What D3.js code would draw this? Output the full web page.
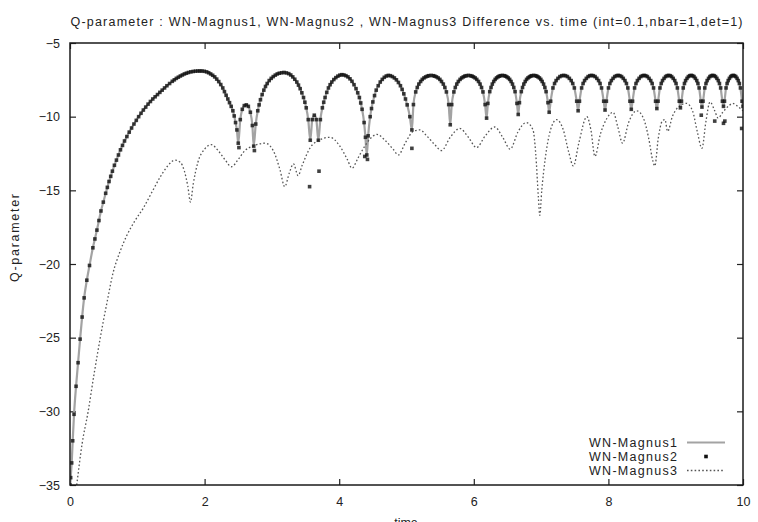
<!DOCTYPE html>
<html>
<head>
<meta charset="utf-8">
<script src="https://cdn.jsdelivr.net/npm/d3@7"></script>
<style>
  html, body { margin: 0; padding: 0; background: #fff; }
  svg { display: block; }
  text { font-family: "Liberation Sans", Arial, Helvetica, sans-serif; fill: #222; }
</style>
</head>
<body>
<svg id="chart" width="758" height="522"></svg>
<script>
// Q-parameter time series, [time, Q] pairs
const chartTitle = "Q-parameter : WN-Magnus1, WN-Magnus2 , WN-Magnus3 Difference vs. time (int=0.1,nbar=1,det=1)";
const xLabel = "time";
const yLabel = "Q-parameter";
const seriesNames = ["WN-Magnus1", "WN-Magnus2", "WN-Magnus3"];
const xTicks = [0, 2, 4, 6, 8, 10];
const yTicks = [-35, -30, -25, -20, -15, -10, -5];

const magnus1 = [
  [0.0,-35.0],[0.01,-34.5],[0.025,-33.5],[0.04,-32.0],[0.06,-30.2],[0.09,-28.3],[0.12,-26.7],[0.15,-25.1],
  [0.18,-23.6],[0.21,-22.3],[0.25,-21.1],[0.29,-20.1],[0.34,-18.9],[0.37,-18.3],[0.40,-17.7],[0.43,-17.05],
  [0.46,-16.4],[0.495,-15.8],[0.53,-15.2],[0.555,-14.8],[0.58,-14.4],[0.605,-14.05],[0.63,-13.7],[0.66,-13.3],
  [0.69,-12.95],[0.72,-12.6],[0.75,-12.25],[0.78,-11.95],[0.81,-11.65],[0.845,-11.35],[0.88,-11.05],[0.915,-10.77],
  [0.95,-10.5],[0.985,-10.25],[1.02,-10.0],[1.055,-9.77],[1.09,-9.55],[1.125,-9.35],[1.16,-9.15],[1.195,-8.97],
  [1.23,-8.8],[1.265,-8.65],[1.30,-8.5],[1.335,-8.35],[1.37,-8.2],[1.405,-8.05],[1.44,-7.9],[1.48,-7.75],
  [1.52,-7.6],[1.55,-7.5],[1.58,-7.4],[1.61,-7.32],[1.64,-7.24],[1.67,-7.17],[1.70,-7.1],[1.73,-7.05],
  [1.76,-7.0],[1.795,-6.96],[1.83,-6.93],[1.865,-6.91],[1.90,-6.9],[1.93,-6.9],[1.96,-6.9],[1.995,-6.92],
  [2.03,-6.96],[2.06,-7.02],[2.09,-7.1],[2.12,-7.19],[2.15,-7.3],[2.18,-7.45],[2.21,-7.62],[2.24,-7.82],
  [2.27,-8.05],[2.295,-8.3],[2.32,-8.55],[2.345,-8.8],[2.37,-9.05],[2.395,-9.3],[2.42,-9.6],[2.44,-9.95],
  [2.46,-10.4],[2.48,-10.9],[2.50,-11.8],
  [2.53,-10.2],[2.56,-9.5],[2.59,-9.25],[2.62,-9.2],[2.65,-9.3],[2.68,-9.7],[2.71,-10.6],[2.73,-12.0],
  [2.76,-10.5],[2.79,-9.6],[2.81,-9.2],[2.83,-8.85],[2.855,-8.5],[2.88,-8.2],[2.905,-7.95],[2.93,-7.75],
  [2.96,-7.55],[2.99,-7.4],[3.02,-7.28],[3.05,-7.18],[3.08,-7.1],[3.11,-7.05],[3.145,-7.02],[3.18,-7.0],
  [3.215,-7.03],[3.25,-7.08],[3.28,-7.17],[3.31,-7.3],[3.34,-7.46],[3.37,-7.65],[3.395,-7.86],[3.42,-8.1],
  [3.445,-8.38],[3.47,-8.7],[3.49,-9.02],[3.51,-9.4],[3.54,-10.2],[3.57,-11.6],
  [3.60,-10.2],[3.63,-9.9],[3.66,-10.2],[3.69,-11.6],[3.72,-10.2],[3.75,-9.4],[3.77,-9.02],[3.79,-8.7],
  [3.815,-8.35],[3.84,-8.05],[3.865,-7.83],[3.89,-7.65],[3.92,-7.48],[3.95,-7.35],[3.98,-7.25],[4.01,-7.18],
  [4.04,-7.15],[4.07,-7.17],[4.10,-7.22],[4.13,-7.3],[4.16,-7.43],[4.19,-7.6],[4.22,-7.83],[4.25,-8.1],
  [4.275,-8.38],[4.30,-8.7],[4.32,-9.07],[4.34,-9.5],[4.37,-10.4],[4.39,-11.4],[4.41,-12.6],
  [4.43,-11.3],[4.46,-10.0],[4.48,-9.45],[4.50,-9.0],[4.525,-8.57],[4.55,-8.2],[4.58,-7.9],[4.61,-7.65],
  [4.64,-7.47],[4.67,-7.33],[4.70,-7.24],[4.73,-7.2],[4.76,-7.22],[4.79,-7.28],[4.82,-7.37],[4.85,-7.5],
  [4.88,-7.68],[4.91,-7.9],[4.935,-8.15],[4.96,-8.45],[4.985,-8.8],[5.01,-9.2],[5.05,-10.0],
  [5.08,-10.9],[5.103,-9.18],[5.137,-8.32],[5.16,-8.02],[5.183,-7.79],[5.21,-7.61],[5.234,-7.47],[5.26,-7.37],
  [5.285,-7.3],[5.31,-7.25],[5.331,-7.22],[5.365,-7.2],[5.399,-7.22],[5.42,-7.25],[5.445,-7.3],[5.47,-7.37],
  [5.496,-7.47],[5.52,-7.61],[5.547,-7.79],[5.57,-8.02],[5.593,-8.32],[5.627,-9.18],
  [5.65,-10.55],[5.672,-9.18],[5.704,-8.32],[5.725,-8.02],[5.747,-7.79],[5.77,-7.61],[5.796,-7.47],[5.82,-7.37],
  [5.844,-7.3],[5.866,-7.25],[5.888,-7.22],[5.92,-7.2],[5.952,-7.22],[5.974,-7.25],[5.996,-7.3],[6.02,-7.37],
  [6.044,-7.47],[6.07,-7.61],[6.093,-7.79],[6.115,-8.02],[6.136,-8.32],[6.168,-9.18],
  [6.19,-10.1],[6.209,-9.1],[6.237,-8.3],[6.256,-8.02],[6.275,-7.79],[6.296,-7.61],[6.317,-7.47],[6.338,-7.37],
  [6.359,-7.3],[6.378,-7.25],[6.397,-7.22],[6.425,-7.2],[6.453,-7.22],[6.472,-7.25],[6.491,-7.3],[6.512,-7.37],
  [6.533,-7.47],[6.554,-7.61],[6.575,-7.79],[6.594,-8.02],[6.613,-8.3],[6.641,-9.1],
  [6.66,-9.85],[6.678,-9.05],[6.706,-8.3],[6.724,-8.02],[6.743,-7.79],[6.764,-7.61],[6.784,-7.47],[6.805,-7.37],
  [6.826,-7.3],[6.844,-7.25],[6.862,-7.22],[6.89,-7.2],[6.918,-7.22],[6.936,-7.25],[6.954,-7.3],[6.975,-7.37],
  [6.996,-7.47],[7.016,-7.61],[7.037,-7.79],[7.056,-8.02],[7.074,-8.3],[7.102,-9.05],
  [7.12,-9.7],[7.142,-8.95],[7.176,-8.05],[7.2,-7.75],[7.223,-7.55],[7.25,-7.4],[7.279,-7.28],[7.307,-7.22],
  [7.335,-7.2],[7.363,-7.22],[7.391,-7.28],[7.42,-7.4],[7.447,-7.55],[7.47,-7.75],[7.494,-8.05],[7.529,-8.95],
  [7.55,-9.6],[7.57,-8.95],[7.602,-8.05],[7.624,-7.75],[7.646,-7.55],[7.672,-7.4],[7.698,-7.28],[7.724,-7.22],
  [7.75,-7.2],[7.776,-7.22],[7.802,-7.28],[7.828,-7.4],[7.854,-7.55],[7.876,-7.75],[7.898,-8.05],[7.93,-8.95],
  [7.95,-9.55],[7.97,-8.95],[8.001,-8.05],[8.022,-7.75],[8.044,-7.55],[8.069,-7.4],[8.094,-7.28],[8.12,-7.22],
  [8.145,-7.2],[8.17,-7.22],[8.196,-7.28],[8.221,-7.4],[8.246,-7.55],[8.268,-7.75],[8.289,-8.05],[8.32,-8.95],
  [8.34,-9.5],[8.359,-8.95],[8.389,-8.05],[8.41,-7.75],[8.431,-7.55],[8.456,-7.4],[8.481,-7.28],[8.505,-7.22],
  [8.53,-7.2],[8.555,-7.22],[8.579,-7.28],[8.604,-7.4],[8.629,-7.55],[8.65,-7.75],[8.671,-8.05],[8.701,-8.95],
  [8.72,-9.45],[8.738,-8.95],[8.766,-8.05],[8.785,-7.75],[8.804,-7.55],[8.827,-7.4],[8.85,-7.28],[8.872,-7.22],
  [8.895,-7.2],[8.918,-7.22],[8.94,-7.28],[8.963,-7.4],[8.986,-7.55],[9.005,-7.75],[9.025,-8.05],[9.053,-8.95],
  [9.07,-9.4],[9.086,-8.95],[9.112,-8.05],[9.13,-7.75],[9.147,-7.55],[9.168,-7.4],[9.188,-7.28],[9.209,-7.22],
  [9.23,-7.2],[9.251,-7.22],[9.272,-7.28],[9.292,-7.4],[9.313,-7.55],[9.33,-7.75],[9.348,-8.05],[9.374,-8.95],
  [9.39,-9.35],[9.406,-8.95],[9.432,-8.05],[9.45,-7.75],[9.467,-7.55],[9.488,-7.4],[9.508,-7.28],[9.529,-7.22],
  [9.55,-7.2],[9.571,-7.22],[9.592,-7.28],[9.612,-7.4],[9.633,-7.55],[9.65,-7.75],[9.668,-8.05],[9.694,-8.95],
  [9.71,-9.3],[9.725,-8.95],[9.748,-8.05],[9.764,-7.75],[9.78,-7.55],[9.798,-7.4],[9.817,-7.28],[9.836,-7.22],
  [9.855,-7.2],[9.874,-7.22],[9.893,-7.28],[9.912,-7.4],[9.93,-7.55],[9.946,-7.75],[9.962,-8.05],[9.986,-8.95],
  [10.0,-9.3]
];

// WN-Magnus2 sits on WN-Magnus1 except for these stray samples near the dips
const magnus2Strays = [
  [2.51,-12.1],[2.74,-12.3],[3.56,-14.75],[3.70,-13.7],[4.38,-12.7],[4.42,-12.9],[5.08,-12.15],
  [9.38,-9.9],[9.58,-10.3],[9.71,-10.45],[9.73,-10.3],[9.98,-10.8]
];
const magnus2 = magnus1.concat(magnus2Strays);

const magnus3 = [
  [0.10,-35.0],[0.18,-32.2],[0.27,-30.0],[0.36,-27.4],[0.45,-25.0],[0.55,-22.6],[0.64,-20.6],[0.74,-19.2],
  [0.84,-18.1],[0.96,-17.1],[1.09,-16.2],[1.22,-15.1],[1.34,-14.1],[1.45,-13.35],[1.56,-12.95],[1.64,-13.1],
  [1.70,-13.7],[1.75,-14.7],[1.79,-15.8],[1.83,-14.6],[1.90,-13.1],[2.0,-12.2],[2.1,-11.9],[2.2,-12.3],
  [2.3,-12.9],[2.4,-13.4],[2.5,-12.9],[2.6,-12.3],[2.72,-12.0],[2.9,-11.8],[3.02,-12.3],[3.12,-13.6],
  [3.19,-14.75],[3.26,-13.8],[3.32,-13.2],[3.39,-14.0],[3.45,-13.3],[3.57,-12.1],[3.7,-11.6],[3.86,-11.4],
  [4.01,-12.0],[4.12,-12.9],[4.19,-13.5],[4.28,-12.8],[4.36,-12.15],[4.46,-11.5],[4.56,-11.2],[4.68,-11.6],
  [4.80,-12.2],[4.88,-12.6],[4.98,-11.8],[5.10,-11.0],[5.2,-10.9],[5.3,-11.3],[5.42,-11.9],[5.52,-12.3],
  [5.65,-11.4],[5.79,-10.8],[5.92,-11.4],[6.04,-12.1],[6.17,-11.3],[6.31,-10.7],[6.43,-11.4],[6.54,-12.2],
  [6.66,-11.0],[6.78,-10.4],[6.88,-10.9],[6.92,-12.5],[6.96,-15.5],[6.98,-16.7],[7.01,-15.0],[7.06,-12.9],
  [7.14,-10.9],[7.23,-10.2],[7.33,-10.9],[7.41,-12.4],[7.48,-13.35],[7.56,-11.8],[7.68,-10.0],[7.74,-10.9],
  [7.80,-12.7],[7.88,-11.2],[7.98,-10.1],[8.07,-9.7],[8.14,-10.7],[8.21,-11.8],[8.30,-10.4],[8.42,-9.6],
  [8.52,-10.1],[8.60,-11.5],[8.66,-13.0],[8.69,-13.35],[8.74,-11.5],[8.80,-10.3],[8.84,-10.2],[8.88,-11.0],
  [8.95,-10.0],[9.05,-9.3],[9.16,-9.1],[9.25,-9.6],[9.32,-11.0],[9.39,-12.15],[9.45,-10.3],[9.51,-9.0],
  [9.58,-9.6],[9.63,-10.1],[9.70,-9.7],[9.78,-9.3],[9.85,-9.1],[9.92,-9.3],[10.0,-9.6]
];

const svg = d3.select("#chart");
const plot = { left: 70, right: 743, top: 43, bottom: 485 };

const x = d3.scaleLinear().domain([0, 10]).range([plot.left, plot.right]);
const y = d3.scaleLinear().domain([-35, -5]).range([plot.bottom, plot.top]);

svg.append("defs").append("clipPath").attr("id", "plot-clip")
  .append("rect")
  .attr("x", plot.left).attr("y", plot.top)
  .attr("width", plot.right - plot.left).attr("height", plot.bottom - plot.top);

// title
svg.append("text")
  .attr("x", (plot.left + plot.right) / 2)
  .attr("y", 26)
  .attr("text-anchor", "middle")
  .attr("font-size", 12.5)
  .attr("textLength", 672)
  .attr("lengthAdjust", "spacing")
  .text(chartTitle);

// axes with inward ticks, mirrored on top and right
const tickFont = g => g.selectAll("text").attr("font-size", 12.5).attr("font-family", "Liberation Sans, Arial, sans-serif").attr("fill", "#222");
const tickLine = g => g.selectAll("line").attr("stroke", "#222").attr("stroke-width", 1.2);

svg.append("g")
  .attr("transform", `translate(0,${plot.bottom})`)
  .call(d3.axisBottom(x).tickValues(xTicks).tickSize(-6).tickPadding(12).tickFormat(d3.format("d")))
  .call(g => g.select(".domain").remove())
  .call(tickFont).call(tickLine);

svg.append("g")
  .attr("transform", `translate(0,${plot.top})`)
  .call(d3.axisTop(x).tickValues(xTicks).tickSize(-6).tickFormat(""))
  .call(g => g.select(".domain").remove())
  .call(tickLine);

svg.append("g")
  .attr("transform", `translate(${plot.left},0)`)
  .call(d3.axisLeft(y).tickValues(yTicks).tickSize(-6).tickPadding(10).tickFormat(d3.format("d")))
  .call(g => g.select(".domain").remove())
  .call(tickFont).call(tickLine);

svg.append("g")
  .attr("transform", `translate(${plot.right},0)`)
  .call(d3.axisRight(y).tickValues(yTicks).tickSize(-6).tickFormat(""))
  .call(g => g.select(".domain").remove())
  .call(tickLine);

// axis titles
svg.append("text")
  .attr("x", 406)
  .attr("y", 527)
  .attr("text-anchor", "middle")
  .attr("font-size", 12.5)
  .text(xLabel);

svg.append("text")
  .attr("transform", "translate(19,238) rotate(-90)")
  .attr("text-anchor", "middle")
  .attr("font-size", 12.5)
  .attr("textLength", 88)
  .attr("lengthAdjust", "spacing")
  .text(yLabel);

// series
const lineGen = d3.line().x(d => x(d[0])).y(d => y(d[1])).curve(d3.curveMonotoneX);
const series = svg.append("g").attr("clip-path", "url(#plot-clip)");

const style = {
  m1: { stroke: "#a3a3a3", width: 2.2 },
  m3: { stroke: "#555", width: 1.3, dash: "1.6,2.2" },
  m2: { fill: "#111", size: 3.6 }
};

series.append("path")
  .datum(magnus1)
  .attr("fill", "none")
  .attr("stroke", style.m1.stroke)
  .attr("stroke-width", style.m1.width)
  .attr("stroke-linejoin", "round")
  .attr("d", lineGen);

series.append("path")
  .datum(magnus3)
  .attr("fill", "none")
  .attr("stroke", style.m3.stroke)
  .attr("stroke-width", style.m3.width)
  .attr("stroke-dasharray", style.m3.dash)
  .attr("d", lineGen);

series.append("g")
  .selectAll("rect")
  .data(magnus2)
  .join("rect")
  .attr("x", d => x(d[0]) - style.m2.size / 2)
  .attr("y", d => y(d[1]) - style.m2.size / 2)
  .attr("width", style.m2.size)
  .attr("height", style.m2.size)
  .attr("fill", style.m2.fill)
  .attr("fill-opacity", 0.8);

// frame
svg.append("rect")
  .attr("x", plot.left).attr("y", plot.top)
  .attr("width", plot.right - plot.left).attr("height", plot.bottom - plot.top)
  .attr("fill", "none")
  .attr("stroke", "#1a1a1a")
  .attr("stroke-width", 1.5);

// legend
const legend = svg.append("g");
const legendBaselines = [447, 461, 475];
seriesNames.forEach((name, i) => {
  legend.append("text")
    .attr("x", 677)
    .attr("y", legendBaselines[i])
    .attr("text-anchor", "end")
    .attr("font-size", 12.5)
    .attr("textLength", 88)
    .attr("lengthAdjust", "spacing")
    .text(name);
});
const sampleY = i => legendBaselines[i] - 4.5;
legend.append("line")
  .attr("x1", 687).attr("x2", 725).attr("y1", sampleY(0)).attr("y2", sampleY(0))
  .attr("stroke", style.m1.stroke).attr("stroke-width", style.m1.width);
legend.append("rect")
  .attr("x", 706 - style.m2.size / 2).attr("y", sampleY(1) - style.m2.size / 2)
  .attr("width", style.m2.size).attr("height", style.m2.size)
  .attr("fill", style.m2.fill);
legend.append("line")
  .attr("x1", 687).attr("x2", 725).attr("y1", sampleY(2)).attr("y2", sampleY(2))
  .attr("stroke", style.m3.stroke).attr("stroke-width", style.m3.width)
  .attr("stroke-dasharray", style.m3.dash);
</script>
</body>
</html>
